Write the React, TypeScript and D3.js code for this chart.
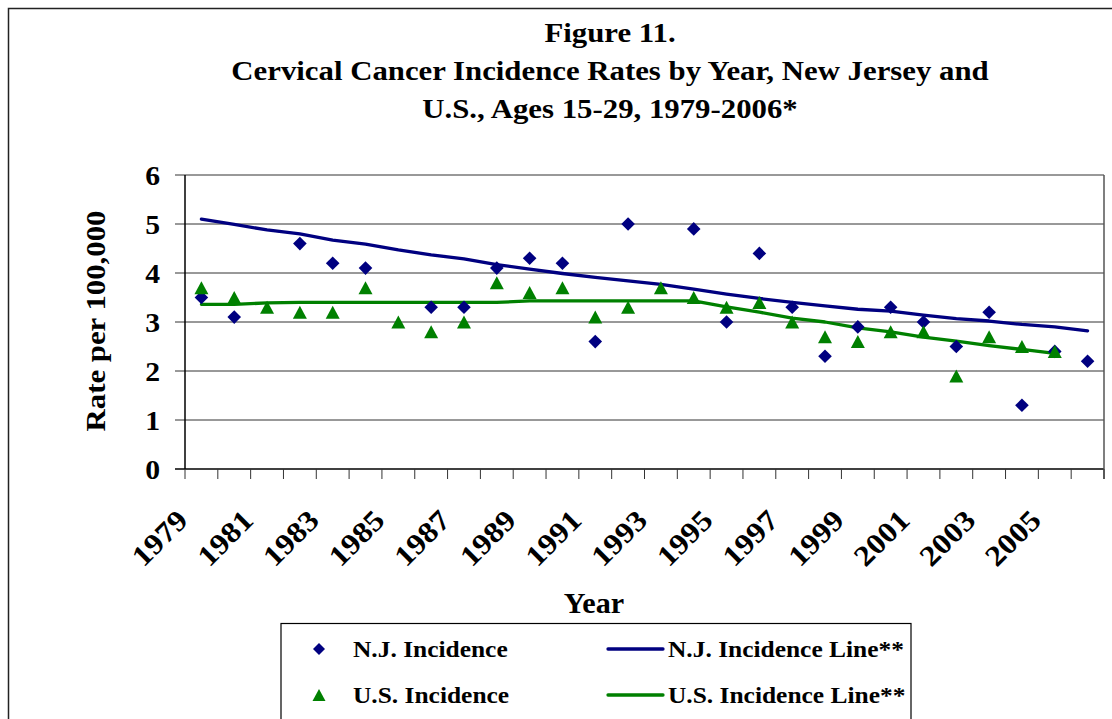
import React from 'react';
import * as d3 from 'd3';

const years = [1979, 1980, 1981, 1982, 1983, 1984, 1985, 1986, 1987, 1988, 1989, 1990, 1991, 1992, 1993, 1994, 1995, 1996, 1997, 1998, 1999, 2000, 2001, 2002, 2003, 2004, 2005, 2006];
const njIncidence: (number | null)[] = [3.5, 3.1, null, 4.6, 4.2, 4.1, null, 3.3, 3.3, 4.1, 4.3, 4.2, 2.6, 5.0, null, 4.9, 3.0, 4.4, 3.3, 2.3, 2.9, 3.3, 3.0, 2.5, 3.2, 1.3, 2.4, 2.2];
const usIncidence: (number | null)[] = [3.7, 3.5, 3.3, 3.2, 3.2, 3.7, 3.0, 2.8, 3.0, 3.8, 3.6, 3.7, 3.1, 3.3, 3.7, 3.5, 3.3, 3.4, 3.0, 2.7, 2.6, 2.8, 2.8, 1.9, 2.7, 2.5, 2.4, null];
const njLine: (number | null)[] = [5.1, 4.99, 4.88, 4.8, 4.67, 4.59, 4.47, 4.37, 4.29, 4.17, 4.08, 3.99, 3.91, 3.84, 3.77, 3.67, 3.57, 3.48, 3.4, 3.33, 3.26, 3.22, 3.14, 3.07, 3.02, 2.95, 2.9, 2.82];
const usLine: (number | null)[] = [3.36, 3.36, 3.39, 3.4, 3.4, 3.4, 3.4, 3.4, 3.4, 3.4, 3.43, 3.43, 3.43, 3.43, 3.43, 3.43, 3.31, 3.2, 3.08, 3.0, 2.88, 2.8, 2.69, 2.61, 2.52, 2.44, 2.36, null];
const yTicks = [0, 1, 2, 3, 4, 5, 6];
const labelYears = [1979, 1981, 1983, 1985, 1987, 1989, 1991, 1993, 1995, 1997, 1999, 2001, 2003, 2005];
const titleLines = ['Figure 11.', 'Cervical Cancer Incidence Rates by Year, New Jersey and', 'U.S., Ages 15-29, 1979-2006*'];
const legendItems = ['N.J. Incidence', 'U.S. Incidence', 'N.J. Incidence Line**', 'U.S. Incidence Line**'];

const NAVY = '#000080';
const GREEN = '#008000';
const FONT = '"Liberation Serif", "Times New Roman", serif';

const W = 1112;
const H = 719;
const plot = { left: 185, right: 1104, top: 175, bottom: 469 };

function Txt(props: { x: number; y: number; size: number; sx?: number; rot?: number; anchor?: string; children: React.ReactNode }) {
  const { x, y, size, sx = 1, rot = 0, anchor = 'start', children } = props;
  return (
    <text
      transform={`translate(${x},${y}) rotate(${rot}) scale(${sx},1)`}
      fontFamily={FONT}
      fontWeight="bold"
      fontSize={size}
      textAnchor={anchor}
      fill="#000"
    >
      {children}
    </text>
  );
}

const diamond = (cx: number, cy: number, r: number) => `M${cx},${cy - r}L${cx + r},${cy}L${cx},${cy + r}L${cx - r},${cy}Z`;
const triangle = (cx: number, cy: number, w: number, h: number) => `M${cx},${cy - h / 2}L${cx + w / 2},${cy + h / 2}L${cx - w / 2},${cy + h / 2}Z`;

export default function App() {
  const x = d3.scaleBand<number>().domain(years).range([plot.left, plot.right]).padding(0);
  const cx = (yr: number) => (x(yr) as number) + x.bandwidth() / 2;
  const y = d3.scaleLinear().domain([0, 6]).range([plot.bottom, plot.top]);

  const line = d3
    .line<number | null>()
    .defined((d) => d !== null)
    .x((_, i) => cx(years[i]))
    .y((d) => y(d as number));

  const boundaries = years.map((yr) => x(yr) as number).concat([plot.right]);

  return (
    <svg width={W} height={H} style={{ position: 'absolute', left: 0, top: 0, display: 'block', background: '#fff' }}>
      {/* outer chart border */}
      <rect x={8.5} y={8.5} width={W} height={H} fill="#fff" stroke="#222" strokeWidth={1.5} />

      {/* title */}
      {titleLines.map((t, i) => (
        <Txt key={t} x={610} y={42 + i * 38} size={27.5} sx={1.12} anchor="middle">
          {t}
        </Txt>
      ))}

      {/* gridlines */}
      {yTicks.map((t) => (
        <line key={t} x1={plot.left - 10} x2={plot.right} y1={y(t)} y2={y(t)} stroke={t === 0 ? '#000' : '#333'} strokeWidth={t === 0 ? 1.5 : 1} />
      ))}
      {/* plot right border */}
      <line x1={plot.right} x2={plot.right} y1={plot.top} y2={plot.bottom + 10} stroke="#555" strokeWidth={1.5} />
      {/* y axis */}
      <line x1={plot.left} x2={plot.left} y1={plot.top} y2={plot.bottom} stroke="#000" strokeWidth={1.5} />
      {/* x ticks */}
      {boundaries.map((b, i) => (
        <line key={i} x1={b} x2={b} y1={plot.bottom} y2={plot.bottom + 10} stroke="#333" strokeWidth={1} />
      ))}

      {/* y tick labels */}
      {yTicks.map((t) => (
        <Txt key={t} x={160} y={y(t) + 9.5} size={27} sx={1.1} anchor="end">
          {t}
        </Txt>
      ))}

      {/* x tick labels */}
      {labelYears.map((yr) => (
        <Txt key={yr} x={cx(yr) - 12} y={522} size={29} sx={1.12} rot={-45} anchor="end">
          {yr}
        </Txt>
      ))}

      {/* axis titles */}
      <Txt x={105} y={321} size={28} rot={-90} sx={1.1} anchor="middle">
        Rate per 100,000
      </Txt>
      <Txt x={594} y={613} size={29} sx={1.04} anchor="middle">
        Year
      </Txt>

      {/* trend lines */}
      <path d={line(njLine) || ''} fill="none" stroke={NAVY} strokeWidth={3.3} strokeLinejoin="round" strokeLinecap="round" />
      <path d={line(usLine) || ''} fill="none" stroke={GREEN} strokeWidth={3.3} strokeLinejoin="round" strokeLinecap="round" />

      {/* markers */}
      {njIncidence.map((v, i) =>
        v === null ? null : <path key={'nj' + i} d={diamond(cx(years[i]), y(v), 6.8)} fill={NAVY} />
      )}
      {usIncidence.map((v, i) =>
        v === null ? null : <path key={'us' + i} d={triangle(cx(years[i]), y(v), 14, 13)} fill={GREEN} />
      )}

      {/* legend */}
      <rect x={281} y={623.5} width={630} height={140} fill="#fff" stroke="#000" strokeWidth={1.2} />
      <path d={diamond(319, 649, 6)} fill={NAVY} />
      <path d={triangle(319, 695, 13, 12)} fill={GREEN} />
      <Txt x={353} y={657} size={24} sx={1.06}>
        {legendItems[0]}
      </Txt>
      <Txt x={353} y={703} size={24} sx={1.06}>
        {legendItems[1]}
      </Txt>
      <line x1={608} x2={663} y1={649} y2={649} stroke={NAVY} strokeWidth={3.3} strokeLinecap="round" />
      <line x1={608} x2={663} y1={695} y2={695} stroke={GREEN} strokeWidth={3.3} strokeLinecap="round" />
      <Txt x={668} y={657} size={24} sx={1.06}>
        {legendItems[2]}
      </Txt>
      <Txt x={668} y={703} size={24} sx={1.06}>
        {legendItems[3]}
      </Txt>
    </svg>
  );
}
